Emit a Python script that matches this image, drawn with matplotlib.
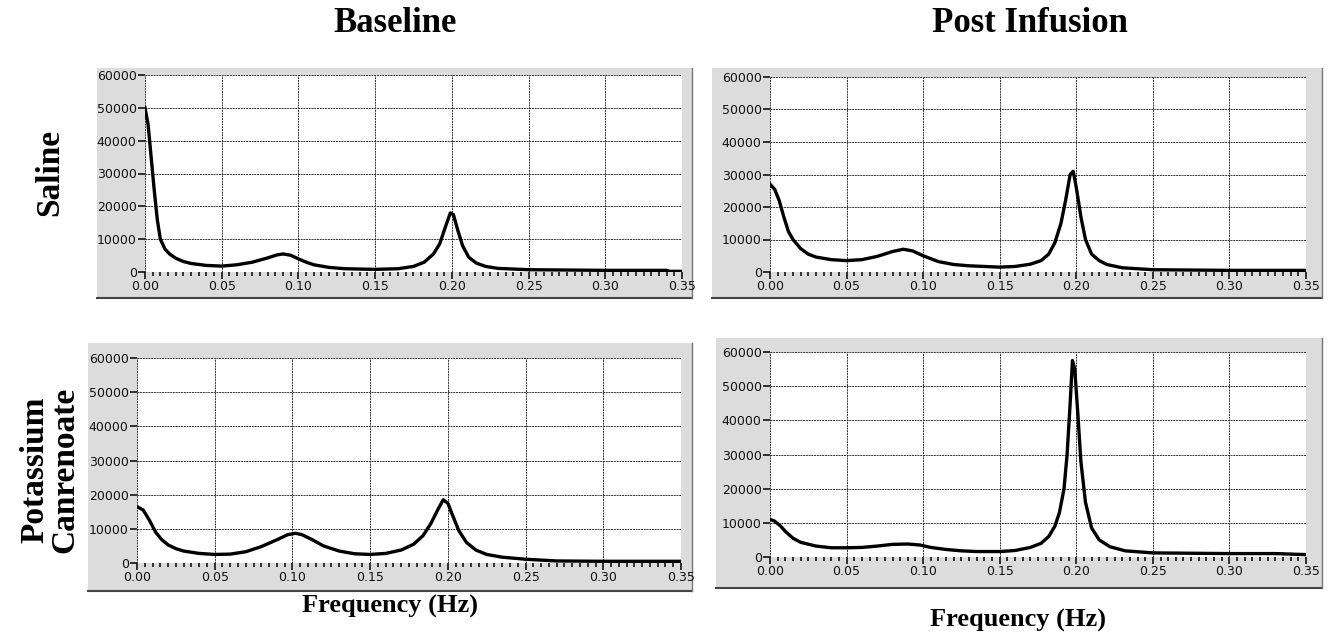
import numpy as np
import matplotlib.pyplot as plt
from matplotlib.patches import Rectangle
from matplotlib.ticker import MultipleLocator

# Values (frequency in Hz, spectral power)
col_titles = ["Baseline", "Post Infusion"]
row_titles = ["Saline", "Potassium\nCanrenoate"]
x_label = "Frequency (Hz)"

saline_base_f = [0.0, 0.002, 0.004, 0.006, 0.008, 0.010, 0.013, 0.016, 0.020, 0.025, 0.030, 0.040,
                 0.050, 0.060, 0.070, 0.080, 0.086, 0.090, 0.095, 0.100, 0.105, 0.110, 0.120, 0.130,
                 0.150, 0.165, 0.175, 0.182, 0.188, 0.192, 0.196, 0.199, 0.201, 0.204, 0.207, 0.211,
                 0.216, 0.222, 0.230, 0.250, 0.300, 0.340, 0.342, 0.350]
saline_base_p = [50000, 45000, 35000, 25000, 16000, 10000, 7000, 5500, 4200, 3200, 2600, 2000,
                 1800, 2200, 3000, 4300, 5200, 5500, 5100, 4000, 3000, 2200, 1400, 1000,
                 800, 1000, 1700, 3000, 5500, 8500, 14000, 18000, 17500, 12500, 8000, 4500,
                 2700, 1700, 1100, 700, 500, 500, 200, 200]

saline_post_f = [0.0, 0.003, 0.006, 0.009, 0.012, 0.015, 0.020, 0.025, 0.030, 0.040, 0.050, 0.060,
                 0.070, 0.080, 0.087, 0.093, 0.100, 0.110, 0.120, 0.130, 0.150, 0.160, 0.170,
                 0.177, 0.182, 0.186, 0.190, 0.193, 0.196, 0.198, 0.200, 0.203, 0.206, 0.210,
                 0.215, 0.220, 0.230, 0.250, 0.300, 0.350]
saline_post_p = [27000, 25500, 22000, 17000, 12500, 10000, 7200, 5500, 4600, 3800, 3500, 3800,
                 4800, 6300, 7000, 6500, 5000, 3200, 2300, 1900, 1500, 1700, 2400,
                 3500, 5500, 9000, 15000, 22000, 30000, 31000, 26000, 17000, 10000, 5500,
                 3500, 2300, 1300, 700, 500, 500]

kc_base_f = [0.0, 0.004, 0.008, 0.012, 0.016, 0.020, 0.025, 0.030, 0.040, 0.050, 0.060, 0.070,
             0.080, 0.090, 0.097, 0.102, 0.106, 0.112, 0.120, 0.130, 0.140, 0.150, 0.160, 0.170,
             0.178, 0.184, 0.189, 0.194, 0.197, 0.200, 0.203, 0.207, 0.212, 0.218, 0.225, 0.235,
             0.250, 0.270, 0.300, 0.350]
kc_base_p = [16500, 15500, 12500, 9000, 6800, 5300, 4200, 3500, 2800, 2500, 2600, 3300,
             4800, 6800, 8300, 8700, 8300, 7000, 5000, 3500, 2700, 2500, 2800, 3800,
             5500, 8000, 11500, 16000, 18500, 17500, 14000, 9500, 6000, 3800, 2500, 1700,
             1100, 600, 500, 500]

kc_post_f = [0.0, 0.003, 0.007, 0.010, 0.015, 0.020, 0.030, 0.040, 0.050, 0.060, 0.070, 0.080,
             0.090, 0.098, 0.105, 0.115, 0.125, 0.135, 0.150, 0.160, 0.170, 0.177, 0.182,
             0.186, 0.189, 0.192, 0.194, 0.196, 0.1975, 0.199, 0.201, 0.203, 0.206, 0.210,
             0.215, 0.222, 0.232, 0.250, 0.300, 0.330, 0.350]
kc_post_p = [11000, 10500, 9000, 7500, 5500, 4300, 3200, 2700, 2700, 2800, 3200, 3700,
             3800, 3500, 2800, 2200, 1800, 1600, 1600, 1900, 2800, 4000, 6000,
             9000, 13000, 20000, 30000, 45000, 57500, 55000, 42000, 28000, 16000, 8500,
             5000, 3000, 1800, 1200, 1000, 1000, 700]

panels = [
    [(saline_base_f, saline_base_p), (saline_post_f, saline_post_p)],
    [(kc_base_f, kc_base_p), (kc_post_f, kc_post_p)],
]

W, H = 1332, 637
fig = plt.figure(figsize=(W / 100, H / 100), dpi=100)

# pixel boxes: frame (x0, y0, x1, y1) and plot area (x0, y0, x1, y1)
frames = [[(97, 68, 692, 298), (712, 68, 1322, 298)],
          [(88, 343, 692, 591), (716, 338, 1322, 588)]]
areas = [[(145, 75, 682, 272), (770, 77, 1306, 272)],
         [(137, 358, 681, 563), (770, 352, 1306, 557)]]


def fig_box(x0, y0, x1, y1):
    return [x0 / W, 1 - y1 / H, (x1 - x0) / W, (y1 - y0) / H]


serif = ["Liberation Serif", "DejaVu Serif"]

for r in range(2):
    for c in range(2):
        fx0, fy0, fx1, fy1 = frames[r][c]
        b = fig_box(fx0, fy0, fx1, fy1)
        fig.patches.append(Rectangle((b[0], b[1]), b[2], b[3], transform=fig.transFigure,
                                     facecolor="#dcdcdc", edgecolor="none", zorder=-5))
        # darker shadow edges at bottom and right
        fig.add_artist(plt.Line2D([b[0], b[0] + b[2]], [b[1], b[1]], transform=fig.transFigure,
                                  color="#444444", lw=1.5, zorder=-4))
        fig.add_artist(plt.Line2D([b[0] + b[2], b[0] + b[2]], [b[1], b[1] + b[3]],
                                  transform=fig.transFigure, color="#777777", lw=1.0, zorder=-4))

        ax = fig.add_axes(fig_box(*areas[r][c]))
        ax.set_zorder(1)
        f, p = panels[r][c]
        ax.plot(f, p, color="black", lw=2.4, solid_joinstyle="round")
        ax.set_xlim(0, 0.35)
        ax.set_ylim(0, 60000)
        ax.set_facecolor("white")
        ax.xaxis.set_minor_locator(MultipleLocator(0.005))
        ax.yaxis.set_major_locator(MultipleLocator(10000))
        ax.set_xticks(np.arange(0, 0.351, 0.05))
        ax.set_xticklabels([f"{v:.2f}" for v in np.arange(0, 0.351, 0.05)])
        ax.grid(True, which="major", color="#333333", lw=0.7, ls=(0, (2, 0.8)))
        for s in ax.spines.values():
            s.set_visible(False)
        ax.tick_params(axis="x", which="major", length=5, width=1.1, direction="out",
                       labelsize=9, pad=1, labelcolor="#111111")
        ax.tick_params(axis="x", which="minor", length=3, width=1.1, direction="out")
        ax.tick_params(axis="y", which="major", length=5, width=1.1, direction="out",
                       labelsize=9, pad=1, labelcolor="#111111")
        ax.set_axisbelow(True)

for c, t in enumerate(col_titles):
    xc = [395, 1030][c]
    fig.text(xc / W, 1 - 24 / H, t, ha="center", va="center", fontsize=25,
             fontweight="bold", family=serif)

fig.text(50 / W, 1 - 172 / H, row_titles[0], ha="center", va="center", rotation=90,
         fontsize=24, fontweight="bold", family=serif)
fig.text(50 / W, 1 - 470 / H, row_titles[1], ha="center", va="center", rotation=90,
         fontsize=24, fontweight="bold", family=serif, linespacing=0.95)

fig.text(390 / W, 1 - 606 / H, x_label, ha="center", va="center", fontsize=19,
         fontweight="bold", family=serif)
fig.text(1018 / W, 1 - 620 / H, x_label, ha="center", va="center", fontsize=19,
         fontweight="bold", family=serif)

fig.savefig("out.png", dpi=100, facecolor="white")
